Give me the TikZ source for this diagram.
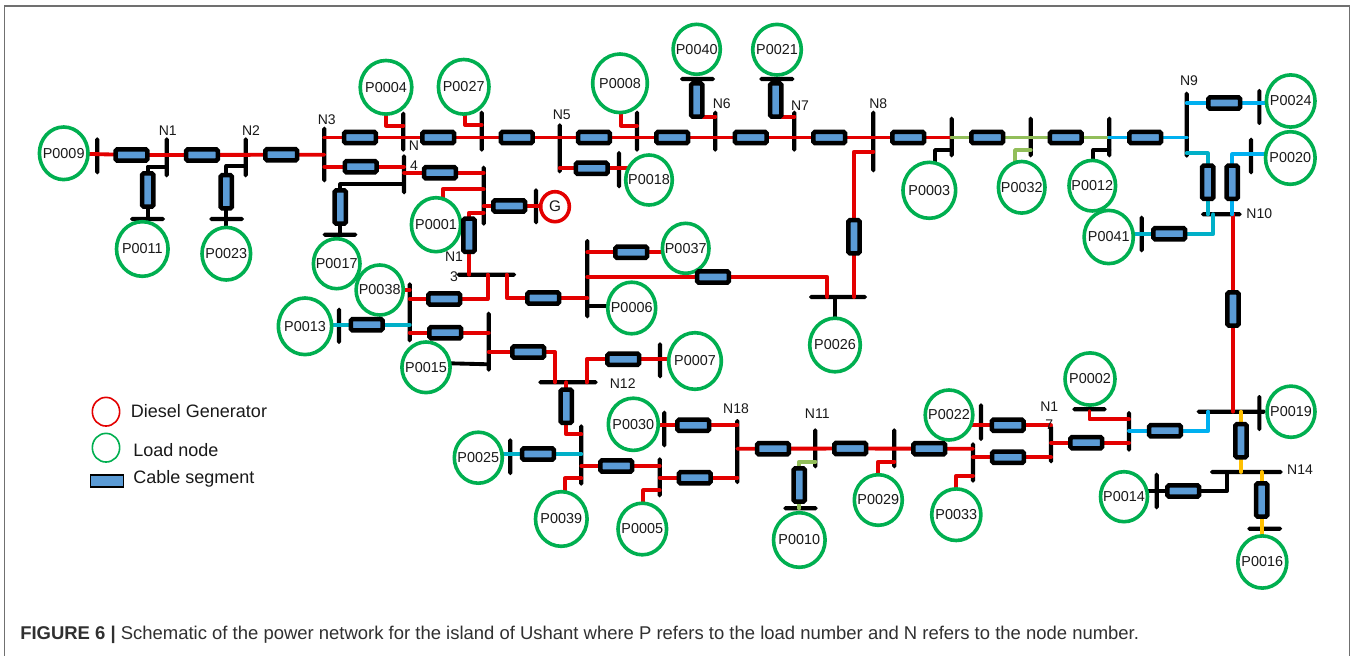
\documentclass[tikz,border=0pt]{standalone}
\usepackage{fontspec}
\setmainfont{Liberation Sans}
\usetikzlibrary{shapes.geometric}
\pgfdeclarelayer{front}
\pgfsetlayers{main,front}
\definecolor{cabblue}{HTML}{5B9BD5}
\definecolor{loadgreen}{HTML}{00AF50}
\definecolor{linered}{HTML}{E30000}
\definecolor{linegreen}{HTML}{92BE5A}
\definecolor{linesky}{HTML}{00B0F0}
\definecolor{lineteal}{HTML}{00B0C8}
\definecolor{lineorange}{HTML}{FFC000}
\definecolor{framegrey}{HTML}{707070}
\definecolor{captext}{HTML}{303030}
\tikzset{
  loadn/.style={ellipse,draw=loadgreen,line width=2.7pt,fill=white,inner sep=0pt,outer sep=0pt},
  loadtxt/.style={font=\fontsize{10.8pt}{12pt}\selectfont,inner sep=0pt,text=black!90},
  cabn/.style={rectangle,draw=black,fill=cabblue,line width=3.4pt,rounded corners=1.2pt,inner sep=0pt,outer sep=0pt},
  busn/.style={rectangle,fill=black,rounded corners=1.4pt,inner sep=0pt,outer sep=0pt},
  nlab/.style={font=\fontsize{10.5pt}{12pt}\selectfont,inner sep=0pt,text=black!90},
  wire/.style={line width=2.9pt,line cap=round,line join=round},
  wr/.style={wire,draw=linered},
  wg/.style={wire,draw=linegreen},
  ws/.style={wire,draw=linesky},
  wt/.style={wire,draw=lineteal},
  wo/.style={wire,draw=lineorange},
  wk/.style={wire,draw=black},
  legtxt/.style={font=\fontsize{13.5pt}{15pt}\selectfont,inner sep=0pt,anchor=west,text=black!90},
  legcirc/.style={ellipse,line width=1.2pt,inner sep=0pt,minimum width=20.5pt,minimum height=21.5pt},
  framel/.style={draw=framegrey,line width=1.1pt},
}
\newcommand{\loadc}[5]{\node[loadn,minimum width={(2*#4-3.4)*.75pt},minimum height={(2*#5-3.4)*.75pt},label={[loadtxt]center:#1}] (#1) at (#2,#3) {};}
\newcommand{\hcab}[3]{\node[cabn,minimum width=23.8pt,minimum height=8.4pt] (#1) at (#2,#3) {};}
\newcommand{\vcab}[3]{\node[cabn,minimum width=8.4pt,minimum height=25pt] (#1) at (#2,#3) {};}
\newcommand{\vbus}[4]{\node[busn,minimum width=3.1pt,minimum height={(#4-#3)*.75pt}] (#1) at (#2,{(#3+#4)/2}) {};}
\newcommand{\hbus}[4]{\node[busn,minimum height=3.1pt,minimum width={(#4-#3)*.75pt}] (#1) at ({(#3+#4)/2},#2) {};}
\begin{document}
\begin{tikzpicture}[x=.75pt,y=-.75pt]
\useasboundingbox (0,0) rectangle (1352,656);
\fill[white] (0,0) rectangle (1352,656);
\draw[framel] (4.5,656) -- (4.5,6) -- (1349.5,6) -- (1349.5,656);

% buses
\vbus{bP09}{97.3}{137.3}{174.3}
\vbus{N1}{166.7}{137.3}{177.3}
\vbus{N2}{245.7}{137.3}{177.3}
\vbus{N3}{324.3}{126.7}{182.3}
\vbus{N4u}{403.3}{111.7}{151.7}
\vbus{N4l}{404}{154.3}{194.3}
\hbus{bP11}{219}{130}{165}
\hbus{bP23}{219}{209.3}{244}
\hbus{bP17}{234.7}{322.7}{357.3}
\vbus{bP13}{339}{307.7}{344}
\vbus{bP38}{409.7}{282.3}{342.3}
\hbus{N13}{274.7}{456.7}{516}
\vbus{bGl}{483.7}{165.7}{225.7}
\vbus{bG}{536}{188.3}{224.3}
\vbus{bP37}{587.3}{239}{318.3}
\vbus{bP15}{488.7}{311.7}{371.7}
\vbus{bP07}{660}{342.3}{378.3}
\hbus{N12}{382.3}{538.3}{597.7}
\vbus{bP27}{481.7}{110.7}{151.7}
\vbus{N5}{559.7}{123.3}{173.3}
\vbus{bP08}{637}{110.7}{151.7}
\vbus{bP18}{619}{151}{188.3}
\hbus{bP40}{79}{680}{715}
\hbus{bP21}{79}{759.3}{794.3}
\vbus{N6}{715.3}{110.7}{151.7}
\vbus{N7}{794.3}{110.7}{151.7}
\vbus{N8}{873.3}{110.7}{172.3}
\vbus{bP03}{951.7}{116.7}{157.3}
\vbus{bP32}{1030.7}{116.7}{157.3}
\vbus{bP12}{1109.3}{116.7}{157.3}
\vbus{N9}{1186.7}{91.7}{157.7}
\vbus{bP24}{1259.3}{89}{125}
\vbus{bP20}{1251}{137.7}{174.3}
\hbus{N10}{214.3}{1201}{1241.7}
\vbus{bP41}{1141.7}{215.7}{252.3}
\hbus{bP26}{297}{809}{867}
\vbus{bP25}{510.3}{438.3}{475}
\vbus{bP39}{581.3}{424.3}{485.7}
\vbus{bP05}{659.7}{457.3}{497.3}
\vbus{bP30}{664.3}{410.7}{447.3}
\vbus{N18}{737.3}{419}{484}
\vbus{N11}{815.3}{428.3}{468.3}
\hbus{bP10}{508.3}{783.3}{817.7}
\vbus{bP29}{894.3}{428.3}{468.3}
\vbus{bP33}{973}{442.3}{482.7}
\vbus{bP22}{981}{403.3}{441}
\vbus{N17}{1051}{425}{463.3}
\hbus{bP02}{409.3}{1072.3}{1106.7}
\vbus{bR}{1129}{411}{451.7}
\hbus{bJ}{411.7}{1196.7}{1266}
\vbus{bP19}{1259.3}{395}{431}
\hbus{N14}{472}{1210}{1282.7}
\hbus{bP16}{528.7}{1247.3}{1282}
\vbus{bP14}{1156.7}{472.7}{509.3}

\begin{pgfonlayer}{front}
% load nodes
\loadc{P0009}{63.7}{153.3}{26}{28}
\loadc{P0011}{142.3}{249}{27.5}{29}
\loadc{P0023}{226.3}{253.7}{26}{28}
\loadc{P0004}{386}{87.3}{27.5}{28.5}
\loadc{P0027}{463.7}{86.8}{27}{29}
\loadc{P0008}{620}{83.3}{29}{31}
\loadc{P0040}{696.7}{49.3}{25.3}{26.7}
\loadc{P0021}{777}{49.7}{26}{27}
\loadc{P0018}{649}{180}{25}{26.7}
\loadc{P0003}{929.3}{190.3}{28}{29.7}
\loadc{P0032}{1021.7}{187.3}{25}{27.5}
\loadc{P0012}{1092.3}{185.7}{25}{27}
\loadc{P0041}{1108.7}{237}{26.3}{28.3}
\loadc{P0024}{1290.7}{101}{26}{27.8}
\loadc{P0020}{1290.3}{158}{26.5}{28}
\loadc{P0001}{436}{224.7}{26.3}{28.7}
\loadc{P0017}{336.7}{263.7}{25}{26.7}
\loadc{P0038}{379.7}{290}{25.3}{26.7}
\loadc{P0013}{305}{326.3}{28.3}{30}
\loadc{P0015}{426}{367.3}{25.8}{27}
\loadc{P0037}{685.7}{248.3}{25}{26.7}
\loadc{P0006}{631.7}{308}{25.7}{27.5}
\loadc{P0007}{695}{361}{28}{30}
\loadc{P0026}{835}{345}{27}{28.5}
\loadc{P0030}{633.3}{424.3}{26.7}{27.8}
\loadc{P0025}{478.3}{457.7}{25.7}{27.2}
\loadc{P0039}{561.3}{519}{27.5}{29}
\loadc{P0005}{642.3}{529}{26}{27.5}
\loadc{P0010}{799.3}{540}{27.5}{29}
\loadc{P0029}{878.3}{500}{25.7}{27}
\loadc{P0022}{949}{415}{25.5}{26.7}
\loadc{P0033}{956.3}{514.7}{26.3}{27.5}
\loadc{P0002}{1090}{379}{26.7}{27.8}
\loadc{P0014}{1124}{496.7}{25.2}{26.7}
\loadc{P0016}{1262.3}{562}{26.2}{27.8}
\loadc{P0019}{1291}{411.7}{25.7}{27.3}
\node[ellipse,draw=linered,line width=2.7pt,fill=white,inner sep=0pt,minimum width=21.5pt,minimum height=22.5pt,label={[loadtxt,font=\fontsize{11.5pt}{13pt}\selectfont]center:G}] (G) at (555,206.7) {};

% cable segments
\hcab{cA}{131.5}{155}
\hcab{cB}{202}{155}
\hcab{cC}{281.3}{154.7}
\hcab{cD}{360}{137.5}
\hcab{cE}{438.3}{137.5}
\hcab{cF}{516.7}{137.5}
\hcab{cG}{594}{137.5}
\hcab{cH}{672.3}{137.5}
\hcab{cI}{750.7}{137.5}
\hcab{cJ}{829.3}{137.5}
\hcab{cK}{908.3}{137.5}
\hcab{cL}{987.3}{137.5}
\hcab{cM}{1065.7}{137.5}
\hcab{cN}{1145.3}{137.5}
\hcab{cO}{360.7}{166.7}
\hcab{cP}{440}{172.7}
\hcab{cQ}{591.7}{168.3}
\hcab{cR}{509.3}{206}
\hcab{cS}{631.3}{252.3}
\hcab{cT}{713}{277}
\hcab{cU}{543.3}{298}
\hcab{cV}{444.3}{299}
\hcab{cW}{445.3}{332.7}
\hcab{cX}{366.7}{324.7}
\hcab{cY}{528.3}{352}
\hcab{cZ}{623.3}{359.3}
\hcab{da}{538}{454}
\hcab{db}{616.3}{466}
\hcab{dc}{693.3}{425.3}
\hcab{dd}{694.7}{477.7}
\hcab{de}{773}{448.7}
\hcab{df}{850.3}{448.5}
\hcab{dg}{929.3}{448.7}
\hcab{dh}{1007.7}{425.3}
\hcab{di}{1008}{457.3}
\hcab{dj}{1086.3}{442.7}
\hcab{dk}{1165}{430.7}
\hcab{dl}{1183.3}{491}
\hcab{dm}{1224.3}{103}
\hcab{dn}{1169.3}{233.7}
\vcab{va}{147.7}{190}
\vcab{vb}{226.3}{191.7}
\vcab{vc}{340.3}{207}
\vcab{vd}{469}{235.3}
\vcab{ve}{566.3}{406.3}
\vcab{vf}{799.3}{485}
\vcab{vg}{696.7}{100}
\vcab{vh}{775.7}{100}
\vcab{vi}{854}{236.7}
\vcab{vj}{1207.7}{182.3}
\vcab{vk}{1232.3}{182.3}
\vcab{vl}{1233}{309}
\vcab{vm}{1241}{440.7}
\vcab{vn}{1261.7}{500}
\end{pgfonlayer}

% connectors
\draw[wr] (P0009) -- (cA) -- (cB) -- (cC) -- (N3 |- cC);
\draw[wk] (N1 |- 0,166.7) -| (va |- bP11);
\draw[wk] (N2 |- 0,166) -| (P0023);
\draw[wr] (N3 |- cD) -- (cD) -- (cE) -- (cF) -- (cG) -- (cH) -- (cI) -- (cJ) -- (cK) -- (bP03 |- cK);
\draw[wg] (bP03 |- cK) -- (cL) -- (cM) -- (bP12 |- cM);
\draw[ws] (bP12 |- cM) -- (cN) -- (N9 |- cN);
\draw[wr] (P0004) |- (N4u |- 0,125.7);
\draw[wr] (465,0 |- P0027) |- (bP27 |- 0,125);
\draw[wr] (621,0 |- P0008) |- (bP08 |- 0,125.7);
\draw[wk] (vg) -- (bP40);
\draw[wk] (vh) -- (bP21);
\draw[wr] (vg.south) -- (vg.south -| N6);
\draw[wr] (vh.south) -- (vh.south -| N7);
\draw[wr] (N3 |- cO) -- (cO) -- (N4l |- cO);
\draw[wr] (N4l |- cP) -- (cP) -- (bGl |- cP);
\draw[wk] (N4l |- 0,184.3) -| (vc |- bP17);
\draw[wr] (N5 |- cQ) -- (cQ) -- (P0018.center |- cQ);
\draw[wr] (N8 |- 0,151.7) -| (vi) -- (vi |- bP26);
\draw[wk] (bP26 -| P0026) -- (P0026);
\draw[wr] (442.7,0 |- P0001) |- (bGl |- 0,189.3);
\draw[wr] (bGl |- 0,212.7) -| (vd) -- (vd |- N13);
\draw[wr] (bGl |- cR) -- (cR) -- (G.center |- cR);
\draw[wr] (487.7,0 |- N13) |- (cV) -- (bP38 |- cV);
\draw[wr] (506.7,0 |- N13) |- (cU) -- (bP37 |- cU);
\draw[wr] (bP37 |- cS) -- (cS) -- (P0037 |- cS);
\draw[wr] (bP37 |- cT) -- (cT) -| (827.3,0 |- bP26);
\draw[wk] (bP37 |- 0,306) -- (P0006 |- 0,306);
\draw[wr] (P0038 |- 0,290) -- (bP38 |- 0,290);
\draw[wt] (bP38 |- cX) -- (cX) -- (P0013 |- cX);
\draw[wr] (bP38 |- cW) -- (cW) -- (bP15 |- cW);
\draw[wk] (P0015 |- 0,362.7) -- (bP15 |- 0,364.3);
\draw[wr] (bP15 |- cY) -- (cY) -| (555,0 |- N12);
\draw[wr] (586.7,0 |- N12) |- (cZ) -- (P0007 |- cZ);
\draw[wr] (ve |- N12) -- (ve) |- (bP39 |- 0,434.3);
\draw[wt] (bP39 |- da) -- (da) -- (P0025 |- da);
\draw[wr] (bP39 |- db) -- (db) -- (bP05 |- db);
\draw[wr] (565,0 |- P0039) |- (bP39 |- 0,478.3);
\draw[wr] (bP05 |- dd) -- (dd) -- (N18 |- dd);
\draw[wr] (643.3,0 |- P0005) |- (bP05 |- 0,490.3);
\draw[wr] (P0030 |- dc) -- (dc) -- (N18 |- dc);
\draw[wr] (N18 |- de) -- (de) -- (df) -- (dg) -- (bP33 |- dg);
\draw[wg] (N11 |- 0,461.7) -| (vf) -- (vf |- bP10);
\draw[wr] (P0029) |- (bP29 |- 0,461.7);
\draw[wr] (P0033) |- (bP33 |- 0,475.7);
\draw[wr] (bP33 |- di) -- (di) -- (N17 |- di);
\draw[wr] (P0022 |- dh) -- (dh) -- (N17 |- dh);
\draw[wr] (N17 |- dj) -- (dj) -- (bR |- dj);
\draw[wr] (bP02) |- (bR |- 0,419.3);
\draw[ws] (bR |- dk) -- (dk) -| (1208.3,0 |- bJ);
\draw[wr] (N10 -| vl) -- (vl) -- (vl |- bJ);
\draw[wo] (vm |- bJ) -- (vm) -- (vm |- N14);
\draw[wk] (1227,0 |- N14) |- (dl) -- (P0014 |- dl);
\draw[wo] (vn |- N14) -- (vn) -- (vn |- P0016);
\draw[wk] (va) -- (va |- bP11);
\draw[wk] (vb) -- (vb |- bP23);
\draw[wg] (1015,0 |- P0032) |- (bP32 |- 0,150);
\draw[wk] (935,0 |- P0003) |- (bP03 |- 0,150);
\draw[wk] (1093.3,0 |- P0012) |- (bP12 |- 0,150);
\draw[ws] (N9 |- dm) -- (dm) -- (P0024 |- dm);
\draw[wt] (N9 |- 0,153.3) -| (vj) -- (vj |- N10);
\draw[wt] (1213.3,0 |- N10) |- (dn) -- (P0041 |- dn);
\draw[ws] (P0020 |- 0,154.3) -| (vk) -- (vk |- N10);

% node labels
\node[nlab] (lN1) at (167.7,131) {N1};
\node[nlab] (lN2) at (251,131) {N2};
\node[nlab] (lN3) at (326.7,120) {N3};
\node[nlab] (lN4a) at (414,146) {N};
\node[nlab] (lN4b) at (414,165.3) {4};
\node[nlab] (lN13a) at (454,256.7) {N1};
\node[nlab] (lN13b) at (454,276.7) {3};
\node[nlab] (lN5) at (561.7,114.3) {N5};
\node[nlab] (lN6) at (721.7,104) {N6};
\node[nlab] (lN7) at (800,105.7) {N7};
\node[nlab] (lN8) at (878.3,104) {N8};
\node[nlab] (lN9) at (1189,81) {N9};
\node[nlab] (lN10) at (1259.3,213.3) {N10};
\node[nlab] (lN12) at (622.7,384) {N12};
\node[nlab] (lN18) at (736,409) {N18};
\node[nlab] (lN11) at (817.3,413.3) {N11};
\node[nlab] (lN17a) at (1049.3,406.7) {N1};
\node[nlab] (lN17b) at (1049.3,425) {7};
\node[nlab] (lN14) at (1300,470) {N14};

% legend
\node[legcirc,draw=linered] (legG) at (106,411.7) {};
\node[legtxt] (legGt) at (130.7,411) {Diesel Generator};
\node[legcirc,draw=loadgreen] (legL) at (106,447.7) {};
\node[legtxt] (legLt) at (133,450) {Load node};
\node[rectangle,draw=black,fill=cabblue,line width=1.1pt,minimum width=24.5pt,minimum height=9.2pt,inner sep=0pt] (legC) at (107,481) {};
\node[legtxt] (legCt) at (133,479) {Cable segment};

% caption
\node[anchor=west,inner sep=0pt,text=captext,font=\fontsize{13.85pt}{15pt}\selectfont] (caption) at (20,635) {\textbf{FIGURE 6 |} Schematic of the power network for the island of Ushant where P refers to the load number and N refers to the node number.};
\end{tikzpicture}
\end{document}
